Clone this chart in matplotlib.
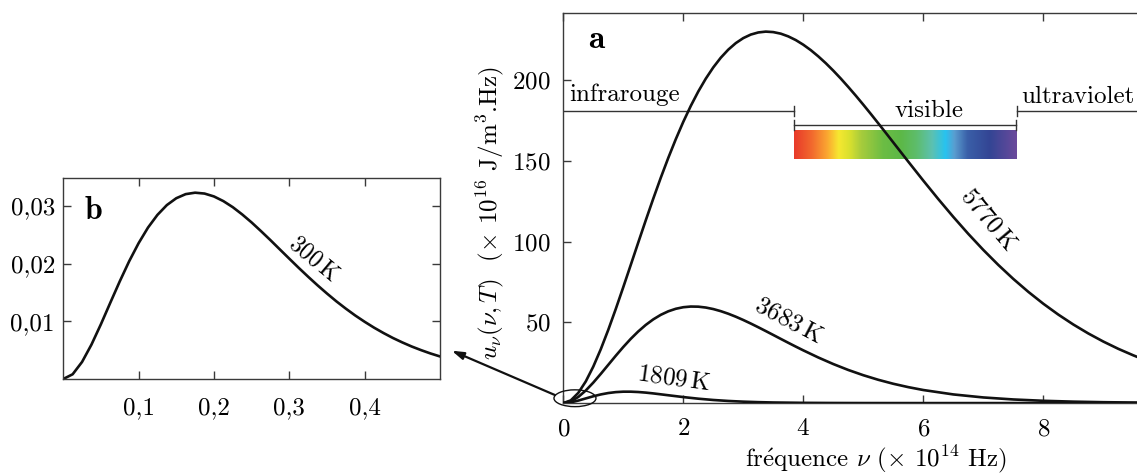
import matplotlib
matplotlib.use('Agg')
import matplotlib.pyplot as plt
import numpy as np
from matplotlib.colors import LinearSegmentedColormap
from matplotlib.patches import Ellipse

plt.rcParams['font.family'] = ['cmr10', 'DejaVu Serif']
plt.rcParams['mathtext.fontset'] = 'cm'
plt.rcParams['axes.unicode_minus'] = False
plt.rcParams['axes.formatter.use_mathtext'] = True

# frequency (x 1e14 Hz) and energy density (x 1e-16 J/m3.Hz)
nu_5770 = [0, 0.125, 0.25, 0.375, 0.5, 0.625, 0.75, 0.875, 1.0, 1.125, 1.25,
           1.375, 1.5, 1.625, 1.75, 1.875, 2.0, 2.125, 2.25, 2.375, 2.5, 2.625,
           2.75, 2.875, 3.0, 3.125, 3.25, 3.375, 3.5, 3.625, 3.75, 3.875, 4.0,
           4.125, 4.25, 4.375, 4.5, 4.625, 4.75, 4.875, 5.0, 5.125, 5.25, 5.375,
           5.5, 5.75, 6.0, 6.25, 6.5, 6.75, 7.0, 7.25, 7.5, 7.75, 8.0, 8.25,
           8.5, 8.75, 9.0, 9.25, 9.5, 9.6]
u_5770 = [0, 1.66, 6.29, 13.41, 22.57, 33.34, 45.35, 58.26, 71.77, 85.57, 99.45,
          113.19, 126.58, 139.51, 151.80, 163.36, 174.12, 183.97, 192.90, 200.85,
          207.83, 213.82, 218.82, 222.86, 225.96, 228.15, 229.46, 229.98, 229.68,
          228.71, 227.02, 224.74, 221.87, 218.51, 214.66, 210.43, 205.82, 200.91,
          195.71, 190.33, 184.75, 179.03, 173.20, 167.31, 161.36, 149.47, 137.74,
          126.30, 115.28, 104.76, 94.84, 85.54, 76.88, 68.88, 61.52, 54.79,
          48.66, 43.11, 38.10, 33.59, 29.56, 28.07]

nu_3683 = [0, 0.125, 0.25, 0.375, 0.5, 0.625, 0.75, 0.875, 1.0, 1.125, 1.25,
           1.375, 1.5, 1.625, 1.75, 1.875, 2.0, 2.125, 2.25, 2.375, 2.5, 2.625,
           2.75, 2.875, 3.0, 3.125, 3.25, 3.375, 3.5, 3.625, 3.75, 3.875, 4.0,
           4.25, 4.5, 4.75, 5.0, 5.25, 5.5, 5.75, 6.0, 6.5, 7.0, 7.5, 8.0, 8.5,
           9.0, 9.6]
u_3683 = [0, 1.03, 3.78, 7.79, 12.67, 18.07, 23.69, 29.31, 34.72, 39.78, 44.36,
          48.40, 51.83, 54.64, 56.82, 58.38, 59.35, 59.77, 59.69, 59.15, 58.21,
          56.91, 55.32, 53.48, 51.44, 49.25, 46.95, 44.58, 42.17, 39.74, 37.33,
          34.96, 32.65, 28.23, 24.17, 20.50, 17.26, 14.42, 11.96, 9.87, 8.09,
          5.36, 3.49, 2.24, 1.42, 0.89, 0.55, 0.30]

nu_1809 = [0, 0.125, 0.25, 0.375, 0.5, 0.625, 0.75, 0.875, 1.0, 1.125, 1.25,
           1.375, 1.5, 1.75, 2.0, 2.25, 2.5, 2.75, 3.0, 3.25, 3.5, 4.0, 4.5,
           5.0, 6.0, 7.0, 8.0, 9.6]
u_1809 = [0, 0.46, 1.55, 2.88, 4.21, 5.35, 6.22, 6.79, 7.06, 7.06, 6.85, 6.48,
          5.99, 4.85, 3.72, 2.72, 1.92, 1.32, 0.88, 0.58, 0.37, 0.15, 0.06,
          0.02, 0.0, 0.0, 0.0, 0.0]

nu_300 = [0, 0.0125, 0.025, 0.0375, 0.05, 0.0625, 0.075, 0.0875, 0.1, 0.1125,
          0.125, 0.1375, 0.15, 0.1625, 0.175, 0.1875, 0.2, 0.2125, 0.225,
          0.2375, 0.25, 0.2625, 0.275, 0.2875, 0.3, 0.3125, 0.325, 0.3375, 0.35,
          0.3625, 0.375, 0.3875, 0.4, 0.4125, 0.425, 0.4375, 0.45, 0.4625,
          0.475, 0.4875, 0.5]
u_300 = [0, 0.00082, 0.00296, 0.00597, 0.00949, 0.01323, 0.01692, 0.02041,
         0.02354, 0.02625, 0.02845, 0.03015, 0.03134, 0.03205, 0.03230,
         0.03215, 0.03165, 0.03084, 0.02979, 0.02853, 0.02714, 0.02563,
         0.02407, 0.02246, 0.02086, 0.01927, 0.01773, 0.01624, 0.01482,
         0.01346, 0.01220, 0.01101, 0.00992, 0.00890, 0.00797, 0.00711,
         0.00634, 0.00563, 0.00500, 0.00442, 0.00391]

xticks_a = [0, 2, 4, 6, 8]
yticks_a = [50, 100, 150, 200]
xticks_b = [0.1, 0.2, 0.3, 0.4]
xlabels_b = ['0,1', '0,2', '0,3', '0,4']
yticks_b = [0.01, 0.02, 0.03]
ylabels_b = ['0,01', '0,02', '0,03']

# spectral domains (x 1e14 Hz)
vis_lo, vis_hi = 3.85, 7.55
rainbow = ['#e83a2a', '#f26a2e', '#fba931', '#f6e830', '#d8e02e', '#a8cc3c',
           '#6cbd44', '#5cb847', '#5ebd6c', '#5cc1b1', '#27c3f0', '#5a9ed0',
           '#3a5fa8', '#334594', '#6b4a9c']
rainbow_pos = [0.0, 0.08, 0.15, 0.2, 0.25, 0.3, 0.4, 0.48, 0.55, 0.62, 0.68,
               0.72, 0.78, 0.88, 1.0]

spine_c = '#3a3a3a'
fs = 18

fig = plt.figure(figsize=(11.37, 4.75), dpi=100)

# ---- panel a
ax = fig.add_axes([0.4954, 0.1514, 0.509, 0.8219])
ax.plot(nu_5770, u_5770, color='#111111', lw=1.9, zorder=3)
ax.plot(nu_3683, u_3683, color='#111111', lw=1.9, zorder=3)
ax.plot(nu_1809, u_1809, color='#111111', lw=1.9, zorder=3)

cmap = LinearSegmentedColormap.from_list('rb', list(zip(rainbow_pos, rainbow)))
grad = np.linspace(0, 1, 256).reshape(1, -1)
ax.imshow(grad, cmap=cmap, aspect='auto', extent=[vis_lo, vis_hi, 151.3, 169.1],
          zorder=1, interpolation='bilinear')

lc = '#333333'
ax.plot([0, vis_lo], [180.9, 180.9], color=lc, lw=1.0, zorder=2)
ax.plot([vis_lo, vis_lo], [177.8, 184.0], color=lc, lw=1.0, zorder=2)
ax.plot([vis_lo, vis_hi], [172.2, 172.2], color=lc, lw=1.0, zorder=2)
ax.plot([vis_lo, vis_lo], [169.1, 175.3], color=lc, lw=1.0, zorder=2)
ax.plot([vis_hi, vis_hi], [169.1, 175.3], color=lc, lw=1.0, zorder=2)
ax.plot([vis_hi + 0.02, 9.7], [180.9, 180.9], color=lc, lw=1.0, zorder=2)
ax.plot([vis_hi + 0.02, vis_hi + 0.02], [177.8, 184.0], color=lc, lw=1.0, zorder=2)

ax.text(0.095, 187.1, 'infrarouge', fontsize=fs, ha='left', va='baseline')
ax.text(6.1, 177.0, 'visible', fontsize=fs, ha='center', va='baseline')
ax.text(7.63, 186.0, 'ultraviolet', fontsize=fs, ha='left', va='baseline')

ax.text(7.08, 113.4, '5770$\\,$K', fontsize=fs, rotation=-50, ha='center',
        va='center', rotation_mode='anchor')
ax.text(3.76, 50.8, '3683$\\,$K', fontsize=fs, rotation=-28, ha='center',
        va='center', rotation_mode='anchor')
ax.text(1.85, 14.9, '1809$\\,$K', fontsize=fs, rotation=-8, ha='center',
        va='center', rotation_mode='anchor')

ax.text(0.043, 0.9096, r'$\mathbf{a}$', transform=ax.transAxes, fontsize=24,
        ha='left', va='baseline')

ell = Ellipse((0.195, 3.0), 0.70, 10.4, fill=False, ec='#111111', lw=1.0,
              clip_on=False, zorder=4)
ax.add_patch(ell)
ax.annotate('', xy=(0.3973, 0.2617), xycoords='figure fraction',
            xytext=(-0.14, 5.0), textcoords='data',
            arrowprops=dict(arrowstyle='-|>,head_length=0.7,head_width=0.22',
                            color='#111111', lw=1.6, shrinkA=0, shrinkB=0),
            annotation_clip=False)

ax.set_xlim(0, 9.645)
ax.set_ylim(0, 241.7)
ax.set_xticks(xticks_a)
ax.set_yticks(yticks_a)
ax.tick_params(direction='in', top=True, right=False, length=6, width=1,
               color=spine_c, labelsize=fs, pad=9)
ax.tick_params(axis='x', pad=11)
for s in ax.spines.values():
    s.set_color(spine_c)
    s.set_linewidth(1.0)
ax.set_xlabel(r'fr$\acute{\rm e}$quence $\nu$ ($\times$ 10$^{14}$ Hz)', fontsize=fs)
ax.xaxis.set_label_coords(0.54, -0.102)
ax.set_ylabel(r'$u_\nu(\nu, T)$  ($\times$ 10$^{16}$ J/m$^3$.Hz)', fontsize=fs)
ax.yaxis.set_label_coords(-0.099, 0.487)

# ---- panel b (300 K)
axb = fig.add_axes([0.0556, 0.2021, 0.3314, 0.4232])
axb.plot(nu_300, u_300, color='#111111', lw=1.9)
axb.text(0.3326, 0.0207, '300$\\,$K', fontsize=17, rotation=-40, ha='center',
         va='center', rotation_mode='anchor')
axb.text(0.056, 0.7945, r'$\mathbf{b}$', transform=axb.transAxes, fontsize=23,
         ha='left', va='baseline')
axb.set_xlim(0, 0.5)
axb.set_ylim(0, 0.03485)
axb.set_xticks(xticks_b)
axb.set_xticklabels(xlabels_b)
axb.set_yticks(yticks_b)
axb.set_yticklabels(ylabels_b)
axb.tick_params(direction='in', top=True, right=True, length=6, width=1,
                color=spine_c, labelsize=fs, pad=6)
axb.tick_params(axis='x', pad=13)
for s in axb.spines.values():
    s.set_color(spine_c)
    s.set_linewidth(1.0)

fig.savefig('out.png', dpi=100)
